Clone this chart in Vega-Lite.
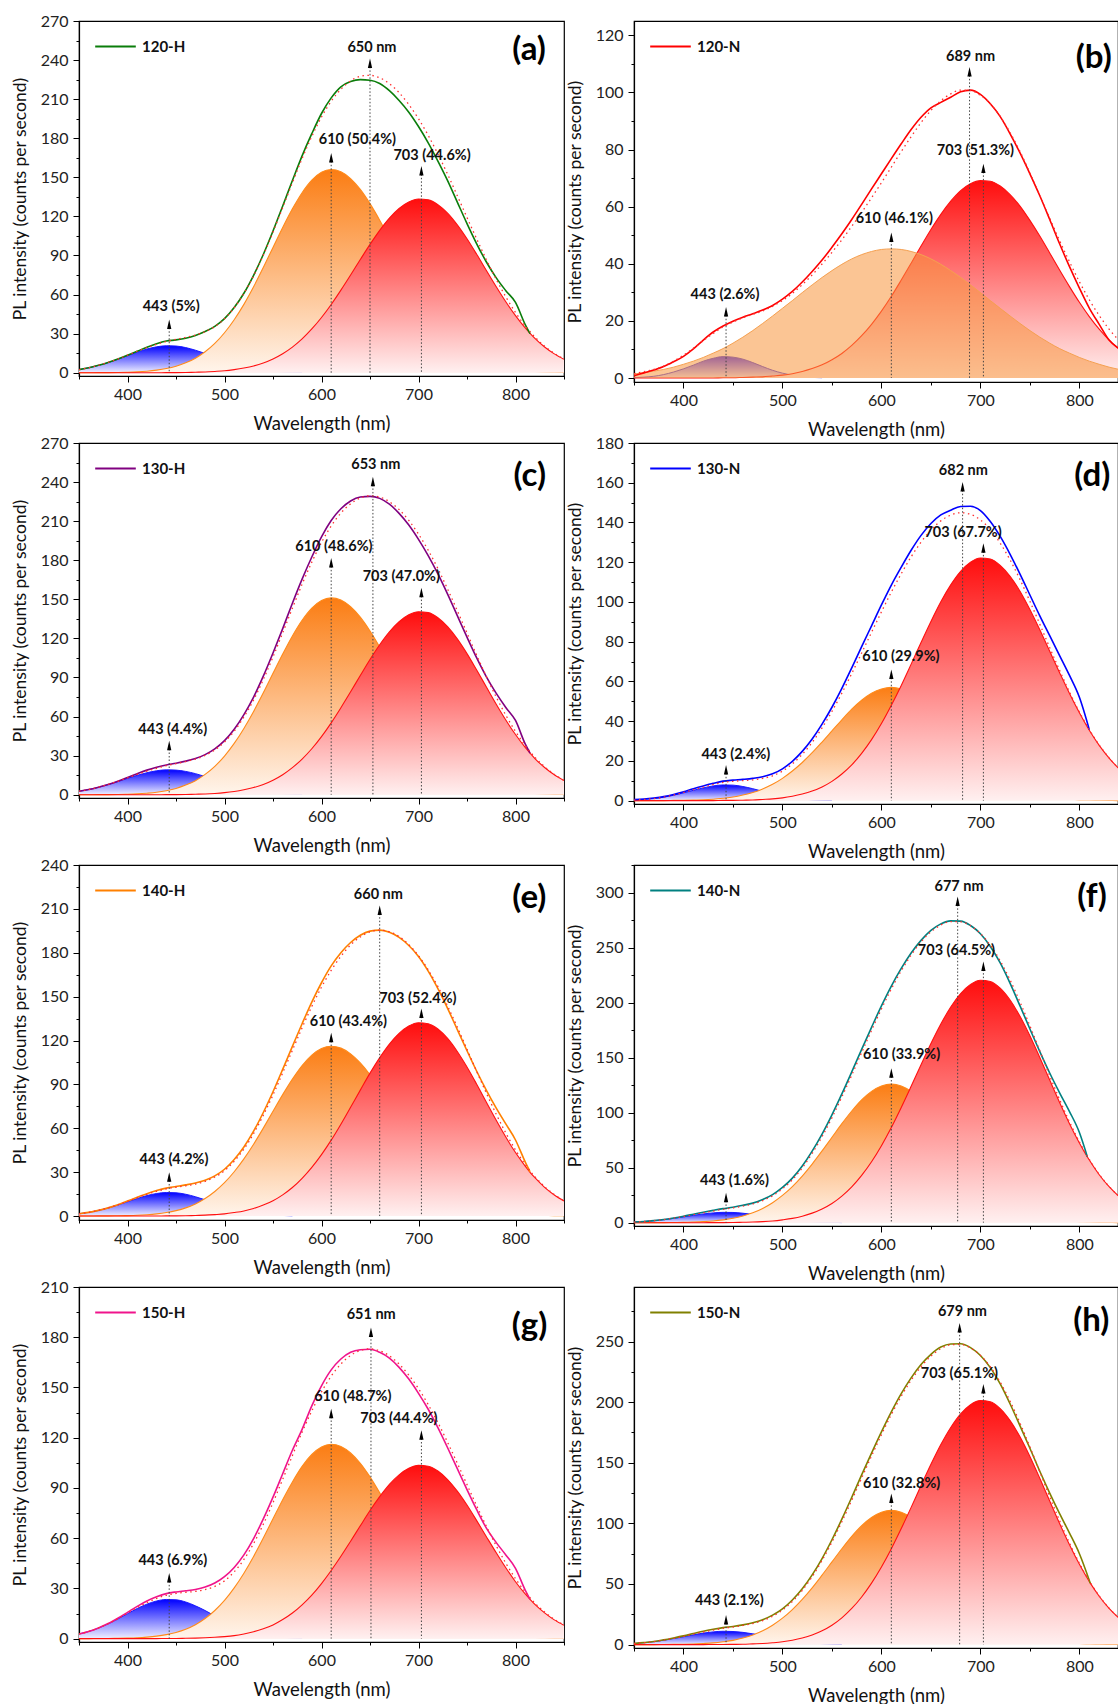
{
"$schema": "https://vega.github.io/schema/vega-lite/v6.json",
"background": "white",
"padding": {"left": 10, "top": 12, "right": 0, "bottom": 0},
"config": {
 "font": "Lato",
 "view": {"stroke": "#000", "strokeWidth": 1.2},
 "mark": {"invalid": "filter"},
 "area": {"opacity": 1},
 "axis": {"domainColor": "#000", "domainWidth": 1.2, "tickColor": "#000", "tickWidth": 1, "labelFont": "Lato", "labelFontSize": 16, "labelColor": "#222", "labelOverlap": false, "titleFont": "Lato", "titleFontSize": 17.5, "titleFontWeight": "normal", "titleColor": "#111", "grid": false},
 "axisX": {"labelPadding": 4, "titlePadding": 12, "titleFontSize": 18.5},
 "axisY": {"labelPadding": 5, "titlePadding": 11},
 "legend": {"orient": "none", "legendX": 15, "legendY": 4, "padding": 0, "symbolType": "stroke", "symbolSize": 1650, "symbolStrokeWidth": 1.8, "labelFont": "Lato", "labelFontSize": 15, "labelFontWeight": "bold", "labelColor": "#111", "labelOffset": 5}
},
"datasets": {
"c": [
{"p":"a","x":350,"b":2.4,"o":0,"r":0,"s":2.4,"e":2.4},
{"p":"a","x":360,"b":3.8,"o":0,"r":0,"s":3.8,"e":3.8},
{"p":"a","x":370,"b":5.6,"o":0.1,"r":0,"s":5.7,"e":5.7},
{"p":"a","x":380,"b":7.8,"o":0.1,"r":0,"s":7.9,"e":7.9},
{"p":"a","x":390,"b":10.3,"o":0.2,"r":0,"s":10.5,"e":10.5},
{"p":"a","x":400,"b":13.1,"o":0.4,"r":0,"s":13.5,"e":13.5},
{"p":"a","x":410,"b":15.8,"o":0.7,"r":0,"s":16.5,"e":16.5},
{"p":"a","x":420,"b":18.2,"o":1.2,"r":0,"s":19.4,"e":19.6},
{"p":"a","x":430,"b":19.9,"o":2.0,"r":0,"s":21.9,"e":22.3},
{"p":"a","x":440,"b":20.7,"o":3.2,"r":0.1,"s":24.0,"e":24.3},
{"p":"a","x":450,"b":20.5,"o":5.0,"r":0.1,"s":25.6,"e":25.2},
{"p":"a","x":460,"b":19.3,"o":7.6,"r":0.2,"s":27.1,"e":26.5},
{"p":"a","x":470,"b":17.3,"o":11.2,"r":0.4,"s":28.9,"e":28.6},
{"p":"a","x":480,"b":14.8,"o":16.1,"r":0.6,"s":31.5,"e":31.6},
{"p":"a","x":490,"b":12.0,"o":22.5,"r":1.0,"s":35.5,"e":35.6},
{"p":"a","x":500,"b":9.3,"o":30.7,"r":1.5,"s":41.5,"e":41.5},
{"p":"a","x":510,"b":6.8,"o":40.7,"r":2.4,"s":49.9,"e":50},
{"p":"a","x":520,"b":4.8,"o":52.5,"r":3.6,"s":60.9,"e":61},
{"p":"a","x":530,"b":3.2,"o":66.0,"r":5.2,"s":74.4,"e":74.8},
{"p":"a","x":540,"b":2.0,"o":80.8,"r":7.5,"s":90.3,"e":90.8},
{"p":"a","x":550,"b":1.2,"o":96.2,"r":10.6,"s":108.0,"e":108.8},
{"p":"a","x":560,"b":0.7,"o":111.5,"r":14.6,"s":126.8,"e":128},
{"p":"a","x":570,"b":0.4,"o":125.8,"r":19.7,"s":145.9,"e":147.5},
{"p":"a","x":580,"b":0.2,"o":138.2,"r":26.0,"s":164.4,"e":166.5},
{"p":"a","x":590,"o":147.8,"r":33.6,"s":181.4,"e":183.5},
{"p":"a","x":600,"o":153.9,"r":42.4,"s":196.3,"e":199},
{"p":"a","x":610,"o":156,"r":52.4,"s":208.4,"e":211},
{"p":"a","x":620,"o":154.2,"r":63.4,"s":217.6,"e":219.5},
{"p":"a","x":630,"o":149.0,"r":75.0,"s":224.0,"e":223.5},
{"p":"a","x":640,"o":140.7,"r":86.9,"s":227.6,"e":225},
{"p":"a","x":650,"o":129.8,"r":98.5,"s":228.3,"e":224.5},
{"p":"a","x":660,"o":117.1,"r":109.3,"s":226.4,"e":222},
{"p":"a","x":670,"o":103.2,"r":118.7,"s":221.9,"e":216.5},
{"p":"a","x":680,"o":88.9,"r":126.1,"s":215.0,"e":209},
{"p":"a","x":690,"o":74.8,"r":131.1,"s":205.9,"e":200},
{"p":"a","x":700,"o":61.6,"r":133.4,"s":195.0,"e":189},
{"p":"a","x":710,"o":49.5,"r":132.7,"s":182.2,"e":176.5},
{"p":"a","x":720,"o":38.9,"r":129.0,"s":167.9,"e":162.5},
{"p":"a","x":730,"o":29.9,"r":122.5,"s":152.4,"e":147.5},
{"p":"a","x":740,"o":22.4,"r":113.5,"s":135.9,"e":131},
{"p":"a","x":750,"o":16.4,"r":102.8,"s":119.2,"e":114.5},
{"p":"a","x":760,"o":11.8,"r":90.9,"s":102.7,"e":99},
{"p":"a","x":770,"o":8.3,"r":78.5,"s":86.8,"e":85},
{"p":"a","x":780,"o":5.7,"r":66.2,"s":71.9,"e":73},
{"p":"a","x":790,"o":3.8,"r":54.5,"s":58.3,"e":63},
{"p":"a","x":800,"o":2.5,"r":43.8,"s":46.3,"e":54},
{"p":"a","x":810,"o":1.6,"r":34.4,"s":36.0,"e":37},
{"p":"a","x":815,"o":1.3,"r":30.3,"s":31.6,"e":30},
{"p":"a","x":820,"o":1.0,"r":26.4,"s":27.4},
{"p":"a","x":830,"o":0.6,"r":19.8,"s":20.4},
{"p":"a","x":840,"o":0.4,"r":14.5,"s":14.9},
{"p":"a","x":850,"o":0.2,"r":10.3,"s":10.5},

{"p":"b","x":350,"b":0.1,"o":1.4,"r":0,"s":1.5,"e":0.8},
{"p":"b","x":360,"b":0.3,"o":1.9,"r":0,"s":2.2,"e":1.8},
{"p":"b","x":370,"b":0.6,"o":2.4,"r":0,"s":3.0,"e":2.8},
{"p":"b","x":380,"b":1.2,"o":3.0,"r":0,"s":4.2,"e":4.0},
{"p":"b","x":390,"b":2.1,"o":3.8,"r":0,"s":5.9,"e":5.7},
{"p":"b","x":400,"b":3.2,"o":4.8,"r":0,"s":8.0,"e":7.6},
{"p":"b","x":410,"b":4.5,"o":5.9,"r":0,"s":10.4,"e":10.2},
{"p":"b","x":420,"b":5.9,"o":7.2,"r":0,"s":13.1,"e":13.3},
{"p":"b","x":430,"b":6.9,"o":8.7,"r":0,"s":15.6,"e":16.1},
{"p":"b","x":440,"b":7.5,"o":10.3,"r":0.1,"s":17.9,"e":18.2},
{"p":"b","x":450,"b":7.3,"o":12.2,"r":0.1,"s":19.6,"e":19.9},
{"p":"b","x":460,"b":6.6,"o":14.3,"r":0.2,"s":21.1,"e":21.3},
{"p":"b","x":470,"b":5.4,"o":16.6,"r":0.3,"s":22.3,"e":22.5},
{"p":"b","x":480,"b":4.0,"o":19.1,"r":0.4,"s":23.5,"e":23.8},
{"p":"b","x":490,"b":2.7,"o":21.7,"r":0.7,"s":25.1,"e":25.4},
{"p":"b","x":500,"b":1.7,"o":24.4,"r":1.0,"s":27.1,"e":27.6},
{"p":"b","x":510,"b":1.0,"o":27.1,"r":1.5,"s":29.6,"e":30.3},
{"p":"b","x":520,"b":0.5,"o":29.9,"r":2.3,"s":32.7,"e":33.6},
{"p":"b","x":530,"b":0.2,"o":32.6,"r":3.3,"s":36.1,"e":37.3},
{"p":"b","x":540,"b":0.1,"o":35.2,"r":4.6,"s":39.9,"e":41.3},
{"p":"b","x":550,"o":37.6,"r":6.4,"s":44.0,"e":45.8},
{"p":"b","x":560,"o":39.8,"r":8.6,"s":48.4,"e":50.5},
{"p":"b","x":570,"o":41.7,"r":11.4,"s":53.1,"e":55.5},
{"p":"b","x":580,"o":43.2,"r":14.8,"s":58.0,"e":60.8},
{"p":"b","x":590,"o":44.3,"r":18.8,"s":63.1,"e":66.2},
{"p":"b","x":600,"o":45.0,"r":23.4,"s":68.4,"e":71.5},
{"p":"b","x":610,"o":45.2,"r":28.6,"s":73.8,"e":76.8},
{"p":"b","x":620,"o":45.0,"r":34.3,"s":79.3,"e":82},
{"p":"b","x":630,"o":44.3,"r":40.2,"s":84.5,"e":87},
{"p":"b","x":640,"o":43.2,"r":46.2,"s":89.4,"e":91.3},
{"p":"b","x":650,"o":41.7,"r":52.0,"s":93.7,"e":94.6},
{"p":"b","x":660,"o":39.8,"r":57.3,"s":97.1,"e":96.5},
{"p":"b","x":670,"o":37.6,"r":61.9,"s":99.5,"e":98.3},
{"p":"b","x":680,"o":35.2,"r":65.6,"s":100.8,"e":100.2},
{"p":"b","x":690,"o":32.6,"r":68.0,"s":100.6,"e":100.8},
{"p":"b","x":700,"o":29.9,"r":69.1,"s":99.0,"e":99.3},
{"p":"b","x":710,"o":27.1,"r":68.9,"s":96.0,"e":96},
{"p":"b","x":720,"o":24.4,"r":67.2,"s":91.6,"e":91.5},
{"p":"b","x":730,"o":21.7,"r":64.2,"s":85.9,"e":85.5},
{"p":"b","x":740,"o":19.1,"r":60.2,"s":79.3,"e":78.8},
{"p":"b","x":750,"o":16.6,"r":55.2,"s":71.8,"e":71.5},
{"p":"b","x":760,"o":14.3,"r":49.7,"s":64.0,"e":63.8},
{"p":"b","x":770,"o":12.2,"r":43.8,"s":56.0,"e":55.5},
{"p":"b","x":780,"o":10.3,"r":37.8,"s":48.1,"e":47},
{"p":"b","x":790,"o":8.7,"r":32.0,"s":40.7,"e":39},
{"p":"b","x":800,"o":7.2,"r":26.5,"s":33.7,"e":31.5},
{"p":"b","x":810,"o":5.9,"r":21.5,"s":27.4,"e":24.5},
{"p":"b","x":820,"o":4.8,"r":17.1,"s":21.9,"e":18.8},
{"p":"b","x":830,"o":3.8,"r":13.3,"s":17.1,"e":13.3},
{"p":"b","x":840,"o":3.0,"r":10.2,"s":13.2,"e":10.2},
{"p":"b","x":850,"o":2.4,"r":7.6,"s":10.0,"e":7.6},

{"p":"c","x":350,"b":2.7,"o":0,"r":0,"s":2.7,"e":2.7},
{"p":"c","x":360,"b":4.0,"o":0,"r":0,"s":4.0,"e":4.0},
{"p":"c","x":370,"b":5.7,"o":0.1,"r":0,"s":5.8,"e":5.8},
{"p":"c","x":380,"b":7.8,"o":0.1,"r":0,"s":7.9,"e":7.9},
{"p":"c","x":390,"b":10.1,"o":0.2,"r":0,"s":10.3,"e":10.4},
{"p":"c","x":400,"b":12.6,"o":0.4,"r":0,"s":13.0,"e":13.3},
{"p":"c","x":410,"b":14.9,"o":0.7,"r":0,"s":15.6,"e":16.2},
{"p":"c","x":420,"b":16.9,"o":1.2,"r":0,"s":18.1,"e":18.9},
{"p":"c","x":430,"b":18.4,"o":1.9,"r":0,"s":20.3,"e":21.1},
{"p":"c","x":440,"b":19.1,"o":3.1,"r":0.1,"s":22.3,"e":22.9},
{"p":"c","x":450,"b":18.9,"o":4.8,"r":0.1,"s":23.8,"e":24.2},
{"p":"c","x":460,"b":17.9,"o":7.4,"r":0.2,"s":25.5,"e":25.8},
{"p":"c","x":470,"b":16.2,"o":10.8,"r":0.4,"s":27.4,"e":27.8},
{"p":"c","x":480,"b":14.0,"o":15.6,"r":0.6,"s":30.2,"e":30.8},
{"p":"c","x":490,"b":11.6,"o":21.8,"r":1.0,"s":34.4,"e":35.2},
{"p":"c","x":500,"b":9.2,"o":29.7,"r":1.6,"s":40.5,"e":41.5},
{"p":"c","x":510,"b":6.9,"o":39.4,"r":2.5,"s":48.8,"e":50.2},
{"p":"c","x":520,"b":5.0,"o":50.9,"r":3.8,"s":59.7,"e":61.5},
{"p":"c","x":530,"b":3.4,"o":63.9,"r":5.5,"s":72.8,"e":75},
{"p":"c","x":540,"b":2.3,"o":78.2,"r":7.9,"s":88.4,"e":91},
{"p":"c","x":550,"b":1.4,"o":93.2,"r":11.2,"s":105.8,"e":108.8},
{"p":"c","x":560,"b":0.9,"o":108.0,"r":15.4,"s":124.3,"e":127.5},
{"p":"c","x":570,"b":0.5,"o":121.9,"r":20.8,"s":143.2,"e":147},
{"p":"c","x":580,"b":0.3,"o":133.9,"r":27.4,"s":161.6,"e":165.5},
{"p":"c","x":590,"o":143.2,"r":35.3,"s":178.5,"e":182.5},
{"p":"c","x":600,"o":149.1,"r":44.6,"s":193.7,"e":198},
{"p":"c","x":610,"o":151.1,"r":55.2,"s":206.3,"e":210.5},
{"p":"c","x":620,"o":149.4,"r":66.8,"s":216.2,"e":219.5},
{"p":"c","x":630,"o":144.3,"r":79.0,"s":223.3,"e":225.5},
{"p":"c","x":640,"o":136.3,"r":91.5,"s":227.8,"e":228.5},
{"p":"c","x":650,"o":125.7,"r":103.8,"s":229.5,"e":229},
{"p":"c","x":660,"o":113.4,"r":115.1,"s":228.5,"e":227.5},
{"p":"c","x":670,"o":99.9,"r":125.0,"s":224.9,"e":223},
{"p":"c","x":680,"o":86.1,"r":132.8,"s":218.9,"e":216},
{"p":"c","x":690,"o":72.5,"r":138.1,"s":210.6,"e":207},
{"p":"c","x":700,"o":59.6,"r":140.5,"s":200.1,"e":196},
{"p":"c","x":710,"o":47.9,"r":139.8,"s":187.7,"e":183.5},
{"p":"c","x":720,"o":37.7,"r":135.9,"s":173.6,"e":169.5},
{"p":"c","x":730,"o":28.9,"r":129.0,"s":157.9,"e":154},
{"p":"c","x":740,"o":21.7,"r":119.6,"s":141.3,"e":137.5},
{"p":"c","x":750,"o":15.9,"r":108.3,"s":124.2,"e":121},
{"p":"c","x":760,"o":11.4,"r":95.7,"s":107.1,"e":105},
{"p":"c","x":770,"o":8.0,"r":82.7,"s":90.7,"e":90.5},
{"p":"c","x":780,"o":5.5,"r":69.7,"s":75.2,"e":78},
{"p":"c","x":790,"o":3.7,"r":57.4,"s":61.1,"e":67},
{"p":"c","x":800,"o":2.4,"r":46.2,"s":48.6,"e":57},
{"p":"c","x":810,"o":1.5,"r":36.3,"s":37.8,"e":39},
{"p":"c","x":815,"o":1.2,"r":31.9,"s":33.1,"e":32},
{"p":"c","x":820,"o":1.0,"r":27.8,"s":28.8},
{"p":"c","x":830,"o":0.6,"r":20.9,"s":21.5},
{"p":"c","x":840,"o":0.3,"r":15.3,"s":15.6},
{"p":"c","x":850,"o":0.2,"r":10.9,"s":11.1},

{"p":"d","x":350,"b":0.3,"o":0,"r":0,"s":0.3,"e":0.5},
{"p":"d","x":360,"b":0.6,"o":0,"r":0,"s":0.6,"e":0.8},
{"p":"d","x":370,"b":1.0,"o":0,"r":0,"s":1.0,"e":1.3},
{"p":"d","x":380,"b":1.7,"o":0,"r":0,"s":1.7,"e":2.0},
{"p":"d","x":390,"b":2.7,"o":0.1,"r":0,"s":2.8,"e":3.1},
{"p":"d","x":400,"b":3.9,"o":0.2,"r":0,"s":4.1,"e":4.5},
{"p":"d","x":410,"b":5.2,"o":0.3,"r":0,"s":5.5,"e":6.0},
{"p":"d","x":420,"b":6.4,"o":0.4,"r":0,"s":6.8,"e":7.4},
{"p":"d","x":430,"b":7.4,"o":0.7,"r":0,"s":8.1,"e":8.7},
{"p":"d","x":440,"b":7.9,"o":1.2,"r":0.1,"s":9.2,"e":9.8},
{"p":"d","x":450,"b":7.8,"o":1.8,"r":0.1,"s":9.7,"e":10.3},
{"p":"d","x":460,"b":7.1,"o":2.8,"r":0.2,"s":10.1,"e":10.7},
{"p":"d","x":470,"b":6.0,"o":4.1,"r":0.3,"s":10.4,"e":11.2},
{"p":"d","x":480,"b":4.7,"o":5.9,"r":0.6,"s":11.2,"e":12.0},
{"p":"d","x":490,"b":3.4,"o":8.2,"r":0.9,"s":12.5,"e":13.5},
{"p":"d","x":500,"b":2.3,"o":11.2,"r":1.4,"s":14.9,"e":16.0},
{"p":"d","x":510,"b":1.4,"o":14.9,"r":2.2,"s":18.5,"e":19.8},
{"p":"d","x":520,"b":0.8,"o":19.2,"r":3.3,"s":23.3,"e":24.8},
{"p":"d","x":530,"b":0.4,"o":24.1,"r":4.8,"s":29.3,"e":31},
{"p":"d","x":540,"b":0.2,"o":29.5,"r":6.9,"s":36.6,"e":38.5},
{"p":"d","x":550,"b":0.1,"o":35.1,"r":9.7,"s":44.9,"e":47},
{"p":"d","x":560,"o":40.7,"r":13.4,"s":54.1,"e":56.5},
{"p":"d","x":570,"o":46.0,"r":18.0,"s":64.0,"e":66.8},
{"p":"d","x":580,"o":50.5,"r":23.8,"s":74.3,"e":77.5},
{"p":"d","x":590,"o":54.0,"r":30.7,"s":84.7,"e":88},
{"p":"d","x":600,"o":56.2,"r":38.8,"s":95.0,"e":98.5},
{"p":"d","x":610,"o":57.0,"r":48.0,"s":105.0,"e":108.5},
{"p":"d","x":620,"o":56.2,"r":58.0,"s":114.2,"e":117.5},
{"p":"d","x":630,"o":54.0,"r":68.7,"s":122.7,"e":126},
{"p":"d","x":640,"o":50.5,"r":79.6,"s":130.1,"e":133.5},
{"p":"d","x":650,"o":46.0,"r":90.2,"s":136.2,"e":139.5},
{"p":"d","x":660,"o":40.7,"r":100.1,"s":140.8,"e":143.8},
{"p":"d","x":670,"o":35.1,"r":108.6,"s":143.7,"e":146.2},
{"p":"d","x":680,"o":29.5,"r":115.4,"s":144.9,"e":148},
{"p":"d","x":690,"o":24.1,"r":120.0,"s":144.1,"e":148.2},
{"p":"d","x":700,"o":19.2,"r":122.1,"s":141.3,"e":146},
{"p":"d","x":710,"o":14.9,"r":121.6,"s":136.5,"e":140.5},
{"p":"d","x":720,"o":11.2,"r":118.4,"s":129.6,"e":133},
{"p":"d","x":730,"o":8.2,"r":112.9,"s":121.1,"e":124},
{"p":"d","x":740,"o":5.9,"r":105.4,"s":111.3,"e":114},
{"p":"d","x":750,"o":4.1,"r":96.2,"s":100.3,"e":103.5},
{"p":"d","x":760,"o":2.8,"r":86.0,"s":88.8,"e":93},
{"p":"d","x":770,"o":1.8,"r":75.2,"s":77.0,"e":83},
{"p":"d","x":780,"o":1.2,"r":64.4,"s":65.6,"e":73},
{"p":"d","x":790,"o":0.7,"r":53.9,"s":54.6,"e":63},
{"p":"d","x":800,"o":0.4,"r":44.2,"s":44.6,"e":52},
{"p":"d","x":810,"o":0.3,"r":35.4,"s":35.7,"e":35.7},
{"p":"d","x":820,"o":0.2,"r":27.8,"s":28.0},
{"p":"d","x":830,"o":0.1,"r":21.4,"s":21.5},
{"p":"d","x":840,"o":0,"r":16.1,"s":16.1},
{"p":"d","x":850,"o":0,"r":11.8,"s":11.8},

{"p":"e","x":350,"b":1.6,"o":0,"r":0,"s":1.6,"e":1.6},
{"p":"e","x":360,"b":2.5,"o":0,"r":0,"s":2.5,"e":2.5},
{"p":"e","x":370,"b":3.8,"o":0.1,"r":0,"s":3.9,"e":3.9},
{"p":"e","x":380,"b":5.5,"o":0.1,"r":0,"s":5.6,"e":5.6},
{"p":"e","x":390,"b":7.5,"o":0.2,"r":0,"s":7.7,"e":7.8},
{"p":"e","x":400,"b":9.8,"o":0.3,"r":0,"s":10.1,"e":10.3},
{"p":"e","x":410,"b":12.0,"o":0.5,"r":0,"s":12.5,"e":12.8},
{"p":"e","x":420,"b":14.0,"o":0.9,"r":0,"s":14.9,"e":15.3},
{"p":"e","x":430,"b":15.4,"o":1.5,"r":0,"s":16.9,"e":17.4},
{"p":"e","x":440,"b":16.1,"o":2.4,"r":0.1,"s":18.6,"e":19.1},
{"p":"e","x":450,"b":15.9,"o":3.7,"r":0.1,"s":19.7,"e":20.2},
{"p":"e","x":460,"b":14.9,"o":5.6,"r":0.2,"s":20.7,"e":21.3},
{"p":"e","x":470,"b":13.2,"o":8.3,"r":0.4,"s":21.9,"e":22.6},
{"p":"e","x":480,"b":11.1,"o":12.0,"r":0.6,"s":23.7,"e":24.5},
{"p":"e","x":490,"b":8.9,"o":16.8,"r":1.0,"s":26.7,"e":27.5},
{"p":"e","x":500,"b":6.7,"o":22.8,"r":1.5,"s":31.0,"e":32},
{"p":"e","x":510,"b":4.8,"o":30.3,"r":2.4,"s":37.5,"e":38.7},
{"p":"e","x":520,"b":3.2,"o":39.1,"r":3.5,"s":45.8,"e":47.2},
{"p":"e","x":530,"b":2.1,"o":49.1,"r":5.2,"s":56.4,"e":58},
{"p":"e","x":540,"b":1.3,"o":60.1,"r":7.5,"s":68.9,"e":70.8},
{"p":"e","x":550,"b":0.7,"o":71.6,"r":10.5,"s":82.8,"e":85},
{"p":"e","x":560,"b":0.4,"o":83.0,"r":14.5,"s":97.9,"e":100.3},
{"p":"e","x":570,"b":0.2,"o":93.6,"r":19.5,"s":113.3,"e":116},
{"p":"e","x":580,"o":102.9,"r":25.8,"s":128.7,"e":131.5},
{"p":"e","x":590,"o":110.0,"r":33.3,"s":143.3,"e":146.3},
{"p":"e","x":600,"o":114.5,"r":42.0,"s":156.5,"e":159.5},
{"p":"e","x":610,"o":116.1,"r":51.9,"s":168.0,"e":171},
{"p":"e","x":620,"o":114.8,"r":62.8,"s":177.6,"e":180},
{"p":"e","x":630,"o":110.9,"r":74.4,"s":185.3,"e":187},
{"p":"e","x":640,"o":104.7,"r":86.1,"s":190.8,"e":192},
{"p":"e","x":650,"o":96.6,"r":97.7,"s":194.3,"e":194.8},
{"p":"e","x":660,"o":87.1,"r":108.3,"s":195.4,"e":195.5},
{"p":"e","x":670,"o":76.8,"r":117.6,"s":194.4,"e":194},
{"p":"e","x":680,"o":66.2,"r":124.9,"s":191.1,"e":190.5},
{"p":"e","x":690,"o":55.7,"r":129.9,"s":185.6,"e":185},
{"p":"e","x":700,"o":45.8,"r":132.2,"s":178.0,"e":177.5},
{"p":"e","x":710,"o":36.8,"r":131.5,"s":168.3,"e":167.5},
{"p":"e","x":720,"o":29.0,"r":127.9,"s":156.9,"e":155.5},
{"p":"e","x":730,"o":22.2,"r":121.4,"s":143.6,"e":142},
{"p":"e","x":740,"o":16.7,"r":112.5,"s":129.2,"e":127.5},
{"p":"e","x":750,"o":12.2,"r":101.9,"s":114.1,"e":113},
{"p":"e","x":760,"o":8.8,"r":90.1,"s":98.9,"e":99},
{"p":"e","x":770,"o":6.2,"r":77.8,"s":84.0,"e":86},
{"p":"e","x":780,"o":4.2,"r":65.6,"s":69.8,"e":74},
{"p":"e","x":790,"o":2.8,"r":54.0,"s":56.8,"e":63},
{"p":"e","x":800,"o":1.8,"r":43.4,"s":45.2,"e":52},
{"p":"e","x":810,"o":1.2,"r":34.1,"s":35.3,"e":37},
{"p":"e","x":815,"o":0.9,"r":29.9,"s":30.8,"e":30.2},
{"p":"e","x":820,"o":0.7,"r":26.2,"s":26.9},
{"p":"e","x":830,"o":0.5,"r":19.6,"s":20.1},
{"p":"e","x":840,"o":0.3,"r":14.4,"s":14.7},
{"p":"e","x":850,"o":0.2,"r":10.3,"s":10.5},

{"p":"f","x":350,"b":0.6,"o":0,"r":0,"s":0.6,"e":0.6},
{"p":"f","x":360,"b":1.1,"o":0,"r":0,"s":1.1,"e":1.1},
{"p":"f","x":370,"b":1.8,"o":0.1,"r":0,"s":1.9,"e":1.9},
{"p":"f","x":380,"b":2.7,"o":0.1,"r":0,"s":2.8,"e":2.9},
{"p":"f","x":390,"b":3.9,"o":0.2,"r":0,"s":4.1,"e":4.3},
{"p":"f","x":400,"b":5.3,"o":0.3,"r":0,"s":5.6,"e":5.9},
{"p":"f","x":410,"b":6.7,"o":0.6,"r":0,"s":7.3,"e":7.7},
{"p":"f","x":420,"b":8.0,"o":1.0,"r":0,"s":9.0,"e":9.5},
{"p":"f","x":430,"b":8.9,"o":1.6,"r":0.1,"s":10.6,"e":11.2},
{"p":"f","x":440,"b":9.4,"o":2.6,"r":0.1,"s":12.1,"e":12.8},
{"p":"f","x":450,"b":9.3,"o":4.0,"r":0.2,"s":13.5,"e":14.1},
{"p":"f","x":460,"b":8.6,"o":6.1,"r":0.4,"s":15.1,"e":15.8},
{"p":"f","x":470,"b":7.5,"o":9.0,"r":0.6,"s":17.1,"e":17.8},
{"p":"f","x":480,"b":6.1,"o":13.0,"r":1.0,"s":20.1,"e":21},
{"p":"f","x":490,"b":4.7,"o":18.2,"r":1.6,"s":24.5,"e":25.5},
{"p":"f","x":500,"b":3.4,"o":24.8,"r":2.6,"s":30.8,"e":32},
{"p":"f","x":510,"b":2.3,"o":32.8,"r":3.9,"s":39.0,"e":40.5},
{"p":"f","x":520,"b":1.5,"o":42.4,"r":5.9,"s":49.8,"e":51.5},
{"p":"f","x":530,"b":0.9,"o":53.3,"r":8.7,"s":62.9,"e":65},
{"p":"f","x":540,"b":0.5,"o":65.2,"r":12.5,"s":78.2,"e":80.5},
{"p":"f","x":550,"b":0.3,"o":77.6,"r":17.5,"s":95.4,"e":98},
{"p":"f","x":560,"b":0.1,"o":90.0,"r":24.2,"s":114.3,"e":117},
{"p":"f","x":570,"o":101.5,"r":32.6,"s":134.1,"e":137},
{"p":"f","x":580,"o":111.6,"r":43.0,"s":154.6,"e":157.5},
{"p":"f","x":590,"o":119.3,"r":55.4,"s":174.7,"e":177.5},
{"p":"f","x":600,"o":124.2,"r":70.0,"s":194.2,"e":197},
{"p":"f","x":610,"o":125.9,"r":86.5,"s":212.4,"e":215},
{"p":"f","x":620,"o":124.2,"r":104.7,"s":228.9,"e":231},
{"p":"f","x":630,"o":119.3,"r":123.9,"s":243.2,"e":245},
{"p":"f","x":640,"o":111.6,"r":143.5,"s":255.1,"e":256.5},
{"p":"f","x":650,"o":101.5,"r":162.8,"s":264.3,"e":265.5},
{"p":"f","x":660,"o":90.0,"r":180.5,"s":270.5,"e":271.5},
{"p":"f","x":670,"o":77.6,"r":196.0,"s":273.6,"e":274.2},
{"p":"f","x":680,"o":65.2,"r":208.2,"s":273.4,"e":274},
{"p":"f","x":690,"o":53.3,"r":216.5,"s":269.8,"e":270},
{"p":"f","x":700,"o":42.4,"r":220.3,"s":262.7,"e":262.5},
{"p":"f","x":710,"o":32.8,"r":219.2,"s":252.0,"e":251},
{"p":"f","x":720,"o":24.8,"r":213.1,"s":237.9,"e":236},
{"p":"f","x":730,"o":18.2,"r":202.3,"s":220.5,"e":217.5},
{"p":"f","x":740,"o":13.0,"r":187.5,"s":200.5,"e":197},
{"p":"f","x":750,"o":9.0,"r":169.8,"s":178.8,"e":176},
{"p":"f","x":760,"o":6.1,"r":150.1,"s":156.2,"e":155.5},
{"p":"f","x":770,"o":4.0,"r":129.6,"s":133.6,"e":136},
{"p":"f","x":780,"o":2.6,"r":109.3,"s":111.9,"e":118},
{"p":"f","x":790,"o":1.6,"r":90.0,"s":91.6,"e":101},
{"p":"f","x":800,"o":1.0,"r":72.4,"s":73.4,"e":82},
{"p":"f","x":808,"o":0.7,"r":59.8,"s":60.5,"e":60},
{"p":"f","x":810,"o":0.6,"r":56.9,"s":57.5},
{"p":"f","x":820,"o":0.3,"r":43.6,"s":43.9},
{"p":"f","x":830,"o":0.2,"r":32.7,"s":32.9},
{"p":"f","x":840,"o":0.1,"r":23.9,"s":24.0},
{"p":"f","x":850,"o":0.1,"r":17.1,"s":17.2},

{"p":"g","x":350,"b":2.8,"o":0,"r":0,"s":2.8,"e":2.8},
{"p":"g","x":360,"b":4.3,"o":0,"r":0,"s":4.3,"e":4.3},
{"p":"g","x":370,"b":6.3,"o":0.1,"r":0,"s":6.4,"e":6.4},
{"p":"g","x":380,"b":8.8,"o":0.1,"r":0,"s":8.9,"e":9},
{"p":"g","x":390,"b":11.7,"o":0.2,"r":0,"s":11.9,"e":12.2},
{"p":"g","x":400,"b":14.9,"o":0.3,"r":0,"s":15.2,"e":15.7},
{"p":"g","x":410,"b":18.0,"o":0.5,"r":0,"s":18.5,"e":19.3},
{"p":"g","x":420,"b":20.6,"o":0.9,"r":0,"s":21.5,"e":22.5},
{"p":"g","x":430,"b":22.5,"o":1.5,"r":0,"s":24.0,"e":25},
{"p":"g","x":440,"b":23.4,"o":2.4,"r":0.1,"s":25.9,"e":26.9},
{"p":"g","x":450,"b":23.2,"o":3.7,"r":0.1,"s":27.0,"e":27.9},
{"p":"g","x":460,"b":21.9,"o":5.6,"r":0.2,"s":27.7,"e":28.6},
{"p":"g","x":470,"b":19.6,"o":8.3,"r":0.3,"s":28.2,"e":29.4},
{"p":"g","x":480,"b":16.8,"o":12.0,"r":0.5,"s":29.3,"e":30.8},
{"p":"g","x":490,"b":13.6,"o":16.8,"r":0.8,"s":31.2,"e":33.2},
{"p":"g","x":500,"b":10.5,"o":22.8,"r":1.2,"s":34.5,"e":37},
{"p":"g","x":510,"b":7.8,"o":30.3,"r":1.8,"s":39.9,"e":42.5},
{"p":"g","x":520,"b":5.4,"o":39.1,"r":2.8,"s":47.3,"e":50},
{"p":"g","x":530,"b":3.6,"o":49.1,"r":4.1,"s":56.8,"e":59.8},
{"p":"g","x":540,"b":2.3,"o":60.1,"r":5.9,"s":68.3,"e":71.5},
{"p":"g","x":550,"b":1.4,"o":71.6,"r":8.2,"s":81.2,"e":84.5},
{"p":"g","x":560,"b":0.8,"o":83.0,"r":11.4,"s":95.2,"e":98.5},
{"p":"g","x":570,"b":0.4,"o":93.6,"r":15.3,"s":109.3,"e":112.5},
{"p":"g","x":580,"b":0.2,"o":102.9,"r":20.2,"s":123.3,"e":125},
{"p":"g","x":590,"o":110.0,"r":26.0,"s":136.0,"e":139},
{"p":"g","x":600,"o":114.5,"r":32.9,"s":147.4,"e":151},
{"p":"g","x":610,"o":116.1,"r":40.7,"s":156.8,"e":160.5},
{"p":"g","x":620,"o":114.8,"r":49.2,"s":164.0,"e":167},
{"p":"g","x":630,"o":110.9,"r":58.2,"s":169.1,"e":171},
{"p":"g","x":640,"o":104.7,"r":67.4,"s":172.1,"e":172.5},
{"p":"g","x":650,"o":96.6,"r":76.5,"s":173.1,"e":172.8},
{"p":"g","x":660,"o":87.1,"r":84.8,"s":171.9,"e":171},
{"p":"g","x":670,"o":76.8,"r":92.1,"s":168.9,"e":167.5},
{"p":"g","x":680,"o":66.2,"r":97.8,"s":164.0,"e":162},
{"p":"g","x":690,"o":55.7,"r":101.7,"s":157.4,"e":155},
{"p":"g","x":700,"o":45.8,"r":103.5,"s":149.3,"e":146.5},
{"p":"g","x":710,"o":36.8,"r":103.0,"s":139.8,"e":137},
{"p":"g","x":720,"o":29.0,"r":100.1,"s":129.1,"e":126},
{"p":"g","x":730,"o":22.2,"r":95.0,"s":117.2,"e":114},
{"p":"g","x":740,"o":16.7,"r":88.1,"s":104.8,"e":101.5},
{"p":"g","x":750,"o":12.2,"r":79.8,"s":92.0,"e":89},
{"p":"g","x":760,"o":8.8,"r":70.5,"s":79.3,"e":77},
{"p":"g","x":770,"o":6.2,"r":60.9,"s":67.1,"e":66},
{"p":"g","x":780,"o":4.2,"r":51.4,"s":55.6,"e":57.5},
{"p":"g","x":790,"o":2.8,"r":42.3,"s":45.1,"e":50},
{"p":"g","x":800,"o":1.8,"r":34.0,"s":35.8,"e":42},
{"p":"g","x":810,"o":1.2,"r":26.7,"s":27.9,"e":29},
{"p":"g","x":815,"o":0.9,"r":23.5,"s":24.4,"e":23.5},
{"p":"g","x":820,"o":0.7,"r":20.5,"s":21.2},
{"p":"g","x":830,"o":0.5,"r":15.4,"s":15.9},
{"p":"g","x":840,"o":0.3,"r":11.2,"s":11.5},
{"p":"g","x":850,"o":0.2,"r":8.0,"s":8.2},

{"p":"h","x":350,"b":0.9,"o":0,"r":0,"s":0.9,"e":0.9},
{"p":"h","x":360,"b":1.6,"o":0,"r":0,"s":1.6,"e":1.6},
{"p":"h","x":370,"b":2.4,"o":0,"r":0,"s":2.4,"e":2.5},
{"p":"h","x":380,"b":3.6,"o":0.1,"r":0,"s":3.7,"e":3.9},
{"p":"h","x":390,"b":5.0,"o":0.2,"r":0,"s":5.2,"e":5.5},
{"p":"h","x":400,"b":6.5,"o":0.3,"r":0,"s":6.8,"e":7.2},
{"p":"h","x":410,"b":8.1,"o":0.5,"r":0,"s":8.6,"e":9.1},
{"p":"h","x":420,"b":9.5,"o":0.9,"r":0,"s":10.4,"e":11},
{"p":"h","x":430,"b":10.5,"o":1.4,"r":0.1,"s":12.0,"e":12.6},
{"p":"h","x":440,"b":11.0,"o":2.3,"r":0.1,"s":13.4,"e":14},
{"p":"h","x":450,"b":10.8,"o":3.5,"r":0.2,"s":14.5,"e":15},
{"p":"h","x":460,"b":10.1,"o":5.4,"r":0.3,"s":15.8,"e":16.3},
{"p":"h","x":470,"b":8.9,"o":7.9,"r":0.6,"s":17.4,"e":18},
{"p":"h","x":480,"b":7.5,"o":11.4,"r":0.9,"s":19.8,"e":20.5},
{"p":"h","x":490,"b":5.9,"o":16.0,"r":1.5,"s":23.4,"e":24.3},
{"p":"h","x":500,"b":4.4,"o":21.8,"r":2.3,"s":28.5,"e":29.5},
{"p":"h","x":510,"b":3.1,"o":28.9,"r":3.6,"s":35.6,"e":36.8},
{"p":"h","x":520,"b":2.0,"o":37.3,"r":5.4,"s":44.7,"e":46},
{"p":"h","x":530,"b":1.3,"o":46.8,"r":7.9,"s":56.0,"e":57.5},
{"p":"h","x":540,"b":0.8,"o":57.3,"r":11.4,"s":69.5,"e":71},
{"p":"h","x":550,"b":0.4,"o":68.2,"r":16.0,"s":84.6,"e":86.5},
{"p":"h","x":560,"b":0.2,"o":79.1,"r":22.1,"s":101.4,"e":103.5},
{"p":"h","x":570,"o":89.3,"r":29.8,"s":119.1,"e":121.5},
{"p":"h","x":580,"o":98.1,"r":39.3,"s":137.4,"e":140},
{"p":"h","x":590,"o":104.9,"r":50.7,"s":155.6,"e":158},
{"p":"h","x":600,"o":109.2,"r":64.0,"s":173.2,"e":175.5},
{"p":"h","x":610,"o":110.7,"r":79.1,"s":189.8,"e":192},
{"p":"h","x":620,"o":109.2,"r":95.7,"s":204.9,"e":207},
{"p":"h","x":630,"o":104.9,"r":113.2,"s":218.1,"e":220},
{"p":"h","x":640,"o":98.1,"r":131.2,"s":229.3,"e":231},
{"p":"h","x":650,"o":89.3,"r":148.7,"s":238.0,"e":239.5},
{"p":"h","x":660,"o":79.1,"r":165.0,"s":244.1,"e":245.5},
{"p":"h","x":670,"o":68.2,"r":179.1,"s":247.3,"e":248},
{"p":"h","x":680,"o":57.3,"r":190.3,"s":247.6,"e":248.2},
{"p":"h","x":690,"o":46.8,"r":197.9,"s":244.7,"e":245},
{"p":"h","x":700,"o":37.3,"r":201.3,"s":238.6,"e":238.5},
{"p":"h","x":710,"o":28.9,"r":200.3,"s":229.2,"e":228.5},
{"p":"h","x":720,"o":21.8,"r":194.7,"s":216.5,"e":215},
{"p":"h","x":730,"o":16.0,"r":184.8,"s":200.8,"e":198.5},
{"p":"h","x":740,"o":11.4,"r":171.4,"s":182.8,"e":180.5},
{"p":"h","x":750,"o":7.9,"r":155.2,"s":163.1,"e":162},
{"p":"h","x":760,"o":5.4,"r":137.2,"s":142.6,"e":143},
{"p":"h","x":770,"o":3.5,"r":118.5,"s":122.0,"e":125},
{"p":"h","x":780,"o":2.3,"r":99.9,"s":102.2,"e":108},
{"p":"h","x":790,"o":1.4,"r":82.3,"s":83.7,"e":92},
{"p":"h","x":800,"o":0.9,"r":66.2,"s":67.1,"e":75},
{"p":"h","x":810,"o":0.5,"r":52.0,"s":52.5},
{"p":"h","x":811,"o":0.5,"r":50.7,"s":51.2,"e":50.7},
{"p":"h","x":820,"o":0.3,"r":39.9,"s":40.2},
{"p":"h","x":830,"o":0.2,"r":29.9,"s":30.1},
{"p":"h","x":840,"o":0.1,"r":21.9,"s":22.0},
{"p":"h","x":850,"o":0,"r":15.6,"s":15.6}
],
"ann": [
{"p":"a","x":443,"ay":37.2,"lx":445,"ly":50.1,"t":"443 (5%)"},
{"p":"a","x":610,"ay":165,"lx":637,"ly":179,"t":"610 (50.4%)"},
{"p":"a","x":650,"ay":237.5,"lx":652,"ly":249,"t":"650 nm"},
{"p":"a","x":703,"ay":155,"lx":714,"ly":166.2,"t":"703 (44.6%)"},
{"p":"b","x":443,"ay":23.2,"lx":442,"ly":29,"t":"443 (2.6%)"},
{"p":"b","x":610,"ay":49.3,"lx":613,"ly":55.7,"t":"610 (46.1%)"},
{"p":"b","x":689,"ay":107.2,"lx":690,"ly":112.4,"t":"689 nm"},
{"p":"b","x":703,"ay":73.4,"lx":695,"ly":79.5,"t":"703 (51.3%)"},
{"p":"c","x":443,"ay":37.8,"lx":446.7,"ly":49.5,"t":"443 (4.4%)"},
{"p":"c","x":610,"ay":178,"lx":612.8,"ly":189.9,"t":"610 (48.6%)"},
{"p":"c","x":653,"ay":240.5,"lx":656,"ly":252.9,"t":"653 nm"},
{"p":"c","x":703,"ay":155.2,"lx":682.3,"ly":166.9,"t":"703 (47.0%)"},
{"p":"d","x":443,"ay":15.5,"lx":452.9,"ly":23.1,"t":"443 (2.4%)"},
{"p":"d","x":610,"ay":63.6,"lx":619.7,"ly":72.1,"t":"610 (29.9%)"},
{"p":"d","x":682,"ay":158,"lx":682.8,"ly":165.9,"t":"682 nm"},
{"p":"d","x":703,"ay":127.2,"lx":682.5,"ly":134.6,"t":"703 (67.7%)"},
{"p":"e","x":443,"ay":26.7,"lx":448,"ly":38.2,"t":"443 (4.2%)"},
{"p":"e","x":610,"ay":122,"lx":627.7,"ly":132.7,"t":"610 (43.4%)"},
{"p":"e","x":660,"ay":209.1,"lx":658.6,"ly":219.5,"t":"660 nm"},
{"p":"e","x":703,"ay":138.7,"lx":699.4,"ly":148.6,"t":"703 (52.4%)"},
{"p":"f","x":443,"ay":23,"lx":451.5,"ly":37.9,"t":"443 (1.6%)"},
{"p":"f","x":610,"ay":136,"lx":620.3,"ly":152.3,"t":"610 (33.9%)"},
{"p":"f","x":677,"ay":292,"lx":678.4,"ly":305.4,"t":"677 nm"},
{"p":"f","x":703,"ay":233.1,"lx":675.8,"ly":246.9,"t":"703 (64.5%)"},
{"p":"g","x":443,"ay":36.3,"lx":446.8,"ly":46.1,"t":"443 (6.9%)"},
{"p":"g","x":610,"ay":134.5,"lx":632.3,"ly":144.2,"t":"610 (48.7%)"},
{"p":"g","x":651,"ay":183,"lx":651.2,"ly":193.5,"t":"651 nm"},
{"p":"g","x":703,"ay":121.6,"lx":679.8,"ly":131.2,"t":"703 (44.4%)"},
{"p":"h","x":443,"ay":20.5,"lx":446.4,"ly":35.8,"t":"443 (2.1%)"},
{"p":"h","x":610,"ay":120.7,"lx":620.4,"ly":132.2,"t":"610 (32.8%)"},
{"p":"h","x":679,"ay":261.3,"lx":681.8,"ly":274,"t":"679 nm"},
{"p":"h","x":703,"ay":211,"lx":678.8,"ly":223,"t":"703 (65.1%)"}
],
"let": [
{"p":"a","lx":814,"ly":248,"t":"(a)"},
{"p":"b","lx":814.5,"ly":112.1,"t":"(b)"},
{"p":"c","lx":814.7,"ly":244.6,"t":"(c)"},
{"p":"d","lx":813,"ly":163.4,"t":"(d)"},
{"p":"e","lx":814.3,"ly":217.3,"t":"(e)"},
{"p":"f","lx":812.8,"ly":296.3,"t":"(f)"},
{"p":"g","lx":814.5,"ly":186.9,"t":"(g)"},
{"p":"h","lx":812,"ly":267,"t":"(h)"}
]
},
"columns": 2,
"spacing": {"row": 61, "column": 70},
"bounds": "flush",
"resolve": {"scale": {"x": "independent", "y": "independent", "color": "independent"}},
"concat": [
{
 "width": 485, "height": 355,
 "data": {"name": "c"},
 "transform": [{"filter": "datum.p === 'a'"}],
 "encoding": {"x": {"field": "x", "type": "quantitative", "scale": {"domain": [350, 850], "nice": false}, "axis": {"title": "Wavelength (nm)", "labelOverlap": false, "tickCount": 100, "format": "d", "values": [350,400,450,500,550,600,650,700,750,800,850], "labelExpr": "datum.value % 100 === 0 ? datum.label : ''", "tickSize": {"condition": {"test": "datum.value % 100 === 0", "value": 6}, "value": 3}}}},
 "layer": [
  {"mark": {"type": "area", "clip": true, "opacity": 1, "interpolate": "monotone", "color": {"gradient": "linear", "x1": 0, "y1": 0, "x2": 0, "y2": 1, "stops": [{"offset": 0, "color": "#0000ff"}, {"offset": 1, "color": "#f0f0ff"}]}, "line": {"color": "#1a1aff", "strokeWidth": 1}},
   "encoding": {"y": {"field": "b", "type": "quantitative", "scale": {"domain": [-2.5, 270], "nice": false, "zero": false}, "axis": {"title": "PL intensity (counts per second)", "labelOverlap": false, "tickCount": 100, "format": "d", "values": [0,15,30,45,60,75,90,105,120,135,150,165,180,195,210,225,240,255,270], "labelExpr": "datum.value % 30 === 0 ? datum.label : ''", "tickSize": {"condition": {"test": "datum.value % 30 === 0", "value": 6}, "value": 3}}}, "y2": {"datum": 0}}},
  {"mark": {"type": "area", "clip": true, "opacity": 1, "interpolate": "monotone", "color": {"gradient": "linear", "x1": 0, "y1": 0, "x2": 0, "y2": 1, "stops": [{"offset": 0, "color": "#fb7d13"}, {"offset": 1, "color": "#fff5ec"}]}, "line": {"color": "#ff8a1a", "strokeWidth": 1.1}},
   "encoding": {"y": {"field": "o", "type": "quantitative", "scale": {"domain": [-2.5, 270], "nice": false, "zero": false}}, "y2": {"datum": 0}}},
  {"mark": {"type": "area", "clip": true, "opacity": 1, "interpolate": "monotone", "color": {"gradient": "linear", "x1": 0, "y1": 0, "x2": 0, "y2": 1, "stops": [{"offset": 0, "color": "#ff0d0d"}, {"offset": 1, "color": "#fff0f0"}]}, "line": {"color": "#ff1010", "strokeWidth": 1.1}},
   "encoding": {"y": {"field": "r", "type": "quantitative", "scale": {"domain": [-2.5, 270], "nice": false, "zero": false}}, "y2": {"datum": 0}}},
  {"mark": {"type": "line", "clip": true, "interpolate": "monotone", "strokeWidth": 1.6},
   "encoding": {"y": {"field": "e", "type": "quantitative", "scale": {"domain": [-2.5, 270], "nice": false, "zero": false}}, "color": {"datum": "120-H", "type": "nominal", "scale": {"range": ["#0a7d0a"]}, "legend": {"title": null}}}},
  {"mark": {"type": "line", "clip": true, "interpolate": "monotone", "color": "#ff3030", "strokeWidth": 1.3, "strokeDash": [1.5, 3.5]},
   "encoding": {"y": {"field": "s", "type": "quantitative", "scale": {"domain": [-2.5, 270], "nice": false, "zero": false}}}},
  {"data": {"name": "ann"}, "transform": [{"filter": "datum.p === 'a'"}], "mark": {"type": "rule", "color": "#444", "strokeWidth": 1, "strokeDash": [1.5, 2]},
   "encoding": {"y": {"field": "ay", "type": "quantitative", "scale": {"domain": [-2.5, 270], "nice": false, "zero": false}}, "y2": {"datum": 0}}},
  {"data": {"name": "ann"}, "transform": [{"filter": "datum.p === 'a'"}], "mark": {"type": "point", "shape": "M0,-1L0.45,1L-0.45,1Z", "filled": true, "color": "#000", "opacity": 1, "size": 90},
   "encoding": {"y": {"field": "ay", "type": "quantitative", "scale": {"domain": [-2.5, 270], "nice": false, "zero": false}}}},
  {"data": {"name": "ann"}, "transform": [{"filter": "datum.p === 'a'"}], "mark": {"type": "text", "font": "Lato", "fontSize": 14.5, "fontWeight": "bold", "color": "#111", "baseline": "middle"},
   "encoding": {"x": {"field": "lx", "type": "quantitative", "scale": {"domain": [350, 850], "nice": false}}, "y": {"field": "ly", "type": "quantitative", "scale": {"domain": [-2.5, 270], "nice": false, "zero": false}}, "text": {"field": "t"}}},
  {"data": {"name": "let"}, "transform": [{"filter": "datum.p === 'a'"}], "mark": {"type": "text", "font": "Lato", "fontSize": 33, "fontWeight": "bold", "color": "#000", "baseline": "middle"},
   "encoding": {"x": {"field": "lx", "type": "quantitative", "scale": {"domain": [350, 850], "nice": false}}, "y": {"field": "ly", "type": "quantitative", "scale": {"domain": [-2.5, 270], "nice": false, "zero": false}}, "text": {"field": "t"}}}
 ]
},
{
 "width": 484, "height": 361,
 "data": {"name": "c"},
 "transform": [{"filter": "datum.p === 'b'"}],
 "encoding": {"x": {"field": "x", "type": "quantitative", "scale": {"domain": [350, 839], "nice": false}, "axis": {"title": "Wavelength (nm)", "labelOverlap": false, "tickCount": 100, "format": "d", "values": [350,400,450,500,550,600,650,700,750,800], "labelExpr": "datum.value % 100 === 0 ? datum.label : ''", "tickSize": {"condition": {"test": "datum.value % 100 === 0", "value": 6}, "value": 3}}}},
 "layer": [
  {"mark": {"type": "area", "clip": true, "opacity": 1, "interpolate": "monotone", "color": {"gradient": "linear", "x1": 0, "y1": 0, "x2": 0, "y2": 1, "stops": [{"offset": 0, "color": "#3a2bff"}, {"offset": 1, "color": "#f0f0ff"}]}, "line": {"color": "#4a40e0", "strokeWidth": 1}},
   "encoding": {"y": {"field": "b", "type": "quantitative", "scale": {"domain": [-1.4, 125], "nice": false, "zero": false}, "axis": {"title": "PL intensity (counts per second)", "labelOverlap": false, "tickCount": 100, "format": "d", "values": [0,10,20,30,40,50,60,70,80,90,100,110,120], "labelExpr": "datum.value % 20 === 0 ? datum.label : ''", "tickSize": {"condition": {"test": "datum.value % 20 === 0", "value": 6}, "value": 3}}}, "y2": {"datum": 0}}},
  {"mark": {"type": "area", "clip": true, "opacity": 1, "interpolate": "monotone", "color": {"gradient": "linear", "x1": 0, "y1": 0, "x2": 0, "y2": 1, "stops": [{"offset": 0, "color": "#ff0d0d"}, {"offset": 1, "color": "#fff0f0"}]}, "line": {"color": "#ff1010", "strokeWidth": 1.1}},
   "encoding": {"y": {"field": "r", "type": "quantitative", "scale": {"domain": [-1.4, 125], "nice": false, "zero": false}}, "y2": {"datum": 0}}},
  {"mark": {"type": "area", "clip": true, "interpolate": "monotone", "color": "#f7953c", "opacity": 0.55, "line": {"color": "#f5a050", "strokeWidth": 1, "opacity": 1}},
   "encoding": {"y": {"field": "o", "type": "quantitative", "scale": {"domain": [-1.4, 125], "nice": false, "zero": false}}, "y2": {"datum": 0}}},
  {"mark": {"type": "line", "clip": true, "interpolate": "monotone", "strokeWidth": 1.6},
   "encoding": {"y": {"field": "e", "type": "quantitative", "scale": {"domain": [-1.4, 125], "nice": false, "zero": false}}, "color": {"datum": "120-N", "type": "nominal", "scale": {"range": ["#ff0000"]}, "legend": {"title": null}}}},
  {"mark": {"type": "line", "clip": true, "interpolate": "monotone", "color": "#ff3030", "strokeWidth": 1.3, "strokeDash": [1.5, 3.5]},
   "encoding": {"y": {"field": "s", "type": "quantitative", "scale": {"domain": [-1.4, 125], "nice": false, "zero": false}}}},
  {"data": {"name": "ann"}, "transform": [{"filter": "datum.p === 'b'"}], "mark": {"type": "rule", "color": "#444", "strokeWidth": 1, "strokeDash": [1.5, 2]},
   "encoding": {"y": {"field": "ay", "type": "quantitative", "scale": {"domain": [-1.4, 125], "nice": false, "zero": false}}, "y2": {"datum": 0}}},
  {"data": {"name": "ann"}, "transform": [{"filter": "datum.p === 'b'"}], "mark": {"type": "point", "shape": "M0,-1L0.45,1L-0.45,1Z", "filled": true, "color": "#000", "opacity": 1, "size": 90},
   "encoding": {"y": {"field": "ay", "type": "quantitative", "scale": {"domain": [-1.4, 125], "nice": false, "zero": false}}}},
  {"data": {"name": "ann"}, "transform": [{"filter": "datum.p === 'b'"}], "mark": {"type": "text", "font": "Lato", "fontSize": 14.5, "fontWeight": "bold", "color": "#111", "baseline": "middle"},
   "encoding": {"x": {"field": "lx", "type": "quantitative", "scale": {"domain": [350, 839], "nice": false}}, "y": {"field": "ly", "type": "quantitative", "scale": {"domain": [-1.4, 125], "nice": false, "zero": false}}, "text": {"field": "t"}}},
  {"data": {"name": "let"}, "transform": [{"filter": "datum.p === 'b'"}], "mark": {"type": "text", "font": "Lato", "fontSize": 33, "fontWeight": "bold", "color": "#000", "baseline": "middle"},
   "encoding": {"x": {"field": "lx", "type": "quantitative", "scale": {"domain": [350, 839], "nice": false}}, "y": {"field": "ly", "type": "quantitative", "scale": {"domain": [-1.4, 125], "nice": false, "zero": false}}, "text": {"field": "t"}}}
 ]
},
{
 "width": 485, "height": 355,
 "data": {"name": "c"},
 "transform": [{"filter": "datum.p === 'c'"}],
 "encoding": {"x": {"field": "x", "type": "quantitative", "scale": {"domain": [350, 850], "nice": false}, "axis": {"title": "Wavelength (nm)", "labelOverlap": false, "tickCount": 100, "format": "d", "values": [350,400,450,500,550,600,650,700,750,800,850], "labelExpr": "datum.value % 100 === 0 ? datum.label : ''", "tickSize": {"condition": {"test": "datum.value % 100 === 0", "value": 6}, "value": 3}}}},
 "layer": [
  {"mark": {"type": "area", "clip": true, "opacity": 1, "interpolate": "monotone", "color": {"gradient": "linear", "x1": 0, "y1": 0, "x2": 0, "y2": 1, "stops": [{"offset": 0, "color": "#0000ff"}, {"offset": 1, "color": "#f0f0ff"}]}, "line": {"color": "#1a1aff", "strokeWidth": 1}},
   "encoding": {"y": {"field": "b", "type": "quantitative", "scale": {"domain": [-2.5, 270], "nice": false, "zero": false}, "axis": {"title": "PL intensity (counts per second)", "labelOverlap": false, "tickCount": 100, "format": "d", "values": [0,15,30,45,60,75,90,105,120,135,150,165,180,195,210,225,240,255,270], "labelExpr": "datum.value % 30 === 0 ? datum.label : ''", "tickSize": {"condition": {"test": "datum.value % 30 === 0", "value": 6}, "value": 3}}}, "y2": {"datum": 0}}},
  {"mark": {"type": "area", "clip": true, "opacity": 1, "interpolate": "monotone", "color": {"gradient": "linear", "x1": 0, "y1": 0, "x2": 0, "y2": 1, "stops": [{"offset": 0, "color": "#fb7d13"}, {"offset": 1, "color": "#fff5ec"}]}, "line": {"color": "#ff8a1a", "strokeWidth": 1.1}},
   "encoding": {"y": {"field": "o", "type": "quantitative", "scale": {"domain": [-2.5, 270], "nice": false, "zero": false}}, "y2": {"datum": 0}}},
  {"mark": {"type": "area", "clip": true, "opacity": 1, "interpolate": "monotone", "color": {"gradient": "linear", "x1": 0, "y1": 0, "x2": 0, "y2": 1, "stops": [{"offset": 0, "color": "#ff0d0d"}, {"offset": 1, "color": "#fff0f0"}]}, "line": {"color": "#ff1010", "strokeWidth": 1.1}},
   "encoding": {"y": {"field": "r", "type": "quantitative", "scale": {"domain": [-2.5, 270], "nice": false, "zero": false}}, "y2": {"datum": 0}}},
  {"mark": {"type": "line", "clip": true, "interpolate": "monotone", "strokeWidth": 1.6},
   "encoding": {"y": {"field": "e", "type": "quantitative", "scale": {"domain": [-2.5, 270], "nice": false, "zero": false}}, "color": {"datum": "130-H", "type": "nominal", "scale": {"range": ["#800080"]}, "legend": {"title": null}}}},
  {"mark": {"type": "line", "clip": true, "interpolate": "monotone", "color": "#ff3030", "strokeWidth": 1.3, "strokeDash": [1.5, 3.5]},
   "encoding": {"y": {"field": "s", "type": "quantitative", "scale": {"domain": [-2.5, 270], "nice": false, "zero": false}}}},
  {"data": {"name": "ann"}, "transform": [{"filter": "datum.p === 'c'"}], "mark": {"type": "rule", "color": "#444", "strokeWidth": 1, "strokeDash": [1.5, 2]},
   "encoding": {"y": {"field": "ay", "type": "quantitative", "scale": {"domain": [-2.5, 270], "nice": false, "zero": false}}, "y2": {"datum": 0}}},
  {"data": {"name": "ann"}, "transform": [{"filter": "datum.p === 'c'"}], "mark": {"type": "point", "shape": "M0,-1L0.45,1L-0.45,1Z", "filled": true, "color": "#000", "opacity": 1, "size": 90},
   "encoding": {"y": {"field": "ay", "type": "quantitative", "scale": {"domain": [-2.5, 270], "nice": false, "zero": false}}}},
  {"data": {"name": "ann"}, "transform": [{"filter": "datum.p === 'c'"}], "mark": {"type": "text", "font": "Lato", "fontSize": 14.5, "fontWeight": "bold", "color": "#111", "baseline": "middle"},
   "encoding": {"x": {"field": "lx", "type": "quantitative", "scale": {"domain": [350, 850], "nice": false}}, "y": {"field": "ly", "type": "quantitative", "scale": {"domain": [-2.5, 270], "nice": false, "zero": false}}, "text": {"field": "t"}}},
  {"data": {"name": "let"}, "transform": [{"filter": "datum.p === 'c'"}], "mark": {"type": "text", "font": "Lato", "fontSize": 33, "fontWeight": "bold", "color": "#000", "baseline": "middle"},
   "encoding": {"x": {"field": "lx", "type": "quantitative", "scale": {"domain": [350, 850], "nice": false}}, "y": {"field": "ly", "type": "quantitative", "scale": {"domain": [-2.5, 270], "nice": false, "zero": false}}, "text": {"field": "t"}}}
 ]
},
{
 "width": 484, "height": 361,
 "data": {"name": "c"},
 "transform": [{"filter": "datum.p === 'd'"}],
 "encoding": {"x": {"field": "x", "type": "quantitative", "scale": {"domain": [350, 839], "nice": false}, "axis": {"title": "Wavelength (nm)", "labelOverlap": false, "tickCount": 100, "format": "d", "values": [350,400,450,500,550,600,650,700,750,800], "labelExpr": "datum.value % 100 === 0 ? datum.label : ''", "tickSize": {"condition": {"test": "datum.value % 100 === 0", "value": 6}, "value": 3}}}},
 "layer": [
  {"mark": {"type": "area", "clip": true, "opacity": 1, "interpolate": "monotone", "color": {"gradient": "linear", "x1": 0, "y1": 0, "x2": 0, "y2": 1, "stops": [{"offset": 0, "color": "#0000ff"}, {"offset": 1, "color": "#f0f0ff"}]}, "line": {"color": "#1a1aff", "strokeWidth": 1}},
   "encoding": {"y": {"field": "b", "type": "quantitative", "scale": {"domain": [-1.7, 180], "nice": false, "zero": false}, "axis": {"title": "PL intensity (counts per second)", "labelOverlap": false, "tickCount": 100, "format": "d", "values": [0,10,20,30,40,50,60,70,80,90,100,110,120,130,140,150,160,170,180], "labelExpr": "datum.value % 20 === 0 ? datum.label : ''", "tickSize": {"condition": {"test": "datum.value % 20 === 0", "value": 6}, "value": 3}}}, "y2": {"datum": 0}}},
  {"mark": {"type": "area", "clip": true, "opacity": 1, "interpolate": "monotone", "color": {"gradient": "linear", "x1": 0, "y1": 0, "x2": 0, "y2": 1, "stops": [{"offset": 0, "color": "#fb7d13"}, {"offset": 1, "color": "#fff5ec"}]}, "line": {"color": "#ff8a1a", "strokeWidth": 1.1}},
   "encoding": {"y": {"field": "o", "type": "quantitative", "scale": {"domain": [-1.7, 180], "nice": false, "zero": false}}, "y2": {"datum": 0}}},
  {"mark": {"type": "area", "clip": true, "opacity": 1, "interpolate": "monotone", "color": {"gradient": "linear", "x1": 0, "y1": 0, "x2": 0, "y2": 1, "stops": [{"offset": 0, "color": "#ff0d0d"}, {"offset": 1, "color": "#fff0f0"}]}, "line": {"color": "#ff1010", "strokeWidth": 1.1}},
   "encoding": {"y": {"field": "r", "type": "quantitative", "scale": {"domain": [-1.7, 180], "nice": false, "zero": false}}, "y2": {"datum": 0}}},
  {"mark": {"type": "line", "clip": true, "interpolate": "monotone", "strokeWidth": 1.6},
   "encoding": {"y": {"field": "e", "type": "quantitative", "scale": {"domain": [-1.7, 180], "nice": false, "zero": false}}, "color": {"datum": "130-N", "type": "nominal", "scale": {"range": ["#0000ff"]}, "legend": {"title": null}}}},
  {"mark": {"type": "line", "clip": true, "interpolate": "monotone", "color": "#ff3030", "strokeWidth": 1.3, "strokeDash": [1.5, 3.5]},
   "encoding": {"y": {"field": "s", "type": "quantitative", "scale": {"domain": [-1.7, 180], "nice": false, "zero": false}}}},
  {"data": {"name": "ann"}, "transform": [{"filter": "datum.p === 'd'"}], "mark": {"type": "rule", "color": "#444", "strokeWidth": 1, "strokeDash": [1.5, 2]},
   "encoding": {"y": {"field": "ay", "type": "quantitative", "scale": {"domain": [-1.7, 180], "nice": false, "zero": false}}, "y2": {"datum": 0}}},
  {"data": {"name": "ann"}, "transform": [{"filter": "datum.p === 'd'"}], "mark": {"type": "point", "shape": "M0,-1L0.45,1L-0.45,1Z", "filled": true, "color": "#000", "opacity": 1, "size": 90},
   "encoding": {"y": {"field": "ay", "type": "quantitative", "scale": {"domain": [-1.7, 180], "nice": false, "zero": false}}}},
  {"data": {"name": "ann"}, "transform": [{"filter": "datum.p === 'd'"}], "mark": {"type": "text", "font": "Lato", "fontSize": 14.5, "fontWeight": "bold", "color": "#111", "baseline": "middle"},
   "encoding": {"x": {"field": "lx", "type": "quantitative", "scale": {"domain": [350, 839], "nice": false}}, "y": {"field": "ly", "type": "quantitative", "scale": {"domain": [-1.7, 180], "nice": false, "zero": false}}, "text": {"field": "t"}}},
  {"data": {"name": "let"}, "transform": [{"filter": "datum.p === 'd'"}], "mark": {"type": "text", "font": "Lato", "fontSize": 33, "fontWeight": "bold", "color": "#000", "baseline": "middle"},
   "encoding": {"x": {"field": "lx", "type": "quantitative", "scale": {"domain": [350, 839], "nice": false}}, "y": {"field": "ly", "type": "quantitative", "scale": {"domain": [-1.7, 180], "nice": false, "zero": false}}, "text": {"field": "t"}}}
 ]
},
{
 "width": 485, "height": 355,
 "data": {"name": "c"},
 "transform": [{"filter": "datum.p === 'e'"}],
 "encoding": {"x": {"field": "x", "type": "quantitative", "scale": {"domain": [350, 850], "nice": false}, "axis": {"title": "Wavelength (nm)", "labelOverlap": false, "tickCount": 100, "format": "d", "values": [350,400,450,500,550,600,650,700,750,800,850], "labelExpr": "datum.value % 100 === 0 ? datum.label : ''", "tickSize": {"condition": {"test": "datum.value % 100 === 0", "value": 6}, "value": 3}}}},
 "layer": [
  {"mark": {"type": "area", "clip": true, "opacity": 1, "interpolate": "monotone", "color": {"gradient": "linear", "x1": 0, "y1": 0, "x2": 0, "y2": 1, "stops": [{"offset": 0, "color": "#0000ff"}, {"offset": 1, "color": "#f0f0ff"}]}, "line": {"color": "#1a1aff", "strokeWidth": 1}},
   "encoding": {"y": {"field": "b", "type": "quantitative", "scale": {"domain": [-2.7, 240], "nice": false, "zero": false}, "axis": {"title": "PL intensity (counts per second)", "labelOverlap": false, "tickCount": 100, "format": "d", "values": [0,15,30,45,60,75,90,105,120,135,150,165,180,195,210,225,240], "labelExpr": "datum.value % 30 === 0 ? datum.label : ''", "tickSize": {"condition": {"test": "datum.value % 30 === 0", "value": 6}, "value": 3}}}, "y2": {"datum": 0}}},
  {"mark": {"type": "area", "clip": true, "opacity": 1, "interpolate": "monotone", "color": {"gradient": "linear", "x1": 0, "y1": 0, "x2": 0, "y2": 1, "stops": [{"offset": 0, "color": "#fb7d13"}, {"offset": 1, "color": "#fff5ec"}]}, "line": {"color": "#ff8a1a", "strokeWidth": 1.1}},
   "encoding": {"y": {"field": "o", "type": "quantitative", "scale": {"domain": [-2.7, 240], "nice": false, "zero": false}}, "y2": {"datum": 0}}},
  {"mark": {"type": "area", "clip": true, "opacity": 1, "interpolate": "monotone", "color": {"gradient": "linear", "x1": 0, "y1": 0, "x2": 0, "y2": 1, "stops": [{"offset": 0, "color": "#ff0d0d"}, {"offset": 1, "color": "#fff0f0"}]}, "line": {"color": "#ff1010", "strokeWidth": 1.1}},
   "encoding": {"y": {"field": "r", "type": "quantitative", "scale": {"domain": [-2.7, 240], "nice": false, "zero": false}}, "y2": {"datum": 0}}},
  {"mark": {"type": "line", "clip": true, "interpolate": "monotone", "strokeWidth": 1.6},
   "encoding": {"y": {"field": "e", "type": "quantitative", "scale": {"domain": [-2.7, 240], "nice": false, "zero": false}}, "color": {"datum": "140-H", "type": "nominal", "scale": {"range": ["#ff8000"]}, "legend": {"title": null}}}},
  {"mark": {"type": "line", "clip": true, "interpolate": "monotone", "color": "#ff3030", "strokeWidth": 1.3, "strokeDash": [1.5, 3.5]},
   "encoding": {"y": {"field": "s", "type": "quantitative", "scale": {"domain": [-2.7, 240], "nice": false, "zero": false}}}},
  {"data": {"name": "ann"}, "transform": [{"filter": "datum.p === 'e'"}], "mark": {"type": "rule", "color": "#444", "strokeWidth": 1, "strokeDash": [1.5, 2]},
   "encoding": {"y": {"field": "ay", "type": "quantitative", "scale": {"domain": [-2.7, 240], "nice": false, "zero": false}}, "y2": {"datum": 0}}},
  {"data": {"name": "ann"}, "transform": [{"filter": "datum.p === 'e'"}], "mark": {"type": "point", "shape": "M0,-1L0.45,1L-0.45,1Z", "filled": true, "color": "#000", "opacity": 1, "size": 90},
   "encoding": {"y": {"field": "ay", "type": "quantitative", "scale": {"domain": [-2.7, 240], "nice": false, "zero": false}}}},
  {"data": {"name": "ann"}, "transform": [{"filter": "datum.p === 'e'"}], "mark": {"type": "text", "font": "Lato", "fontSize": 14.5, "fontWeight": "bold", "color": "#111", "baseline": "middle"},
   "encoding": {"x": {"field": "lx", "type": "quantitative", "scale": {"domain": [350, 850], "nice": false}}, "y": {"field": "ly", "type": "quantitative", "scale": {"domain": [-2.7, 240], "nice": false, "zero": false}}, "text": {"field": "t"}}},
  {"data": {"name": "let"}, "transform": [{"filter": "datum.p === 'e'"}], "mark": {"type": "text", "font": "Lato", "fontSize": 33, "fontWeight": "bold", "color": "#000", "baseline": "middle"},
   "encoding": {"x": {"field": "lx", "type": "quantitative", "scale": {"domain": [350, 850], "nice": false}}, "y": {"field": "ly", "type": "quantitative", "scale": {"domain": [-2.7, 240], "nice": false, "zero": false}}, "text": {"field": "t"}}}
 ]
},
{
 "width": 484, "height": 361,
 "data": {"name": "c"},
 "transform": [{"filter": "datum.p === 'f'"}],
 "encoding": {"x": {"field": "x", "type": "quantitative", "scale": {"domain": [350, 839], "nice": false}, "axis": {"title": "Wavelength (nm)", "labelOverlap": false, "tickCount": 100, "format": "d", "values": [350,400,450,500,550,600,650,700,750,800], "labelExpr": "datum.value % 100 === 0 ? datum.label : ''", "tickSize": {"condition": {"test": "datum.value % 100 === 0", "value": 6}, "value": 3}}}},
 "layer": [
  {"mark": {"type": "area", "clip": true, "opacity": 1, "interpolate": "monotone", "color": {"gradient": "linear", "x1": 0, "y1": 0, "x2": 0, "y2": 1, "stops": [{"offset": 0, "color": "#0000ff"}, {"offset": 1, "color": "#f0f0ff"}]}, "line": {"color": "#1a1aff", "strokeWidth": 1}},
   "encoding": {"y": {"field": "b", "type": "quantitative", "scale": {"domain": [-3, 325], "nice": false, "zero": false}, "axis": {"title": "PL intensity (counts per second)", "labelOverlap": false, "tickCount": 100, "format": "d", "values": [0,25,50,75,100,125,150,175,200,225,250,275,300,325], "labelExpr": "datum.value % 50 === 0 ? datum.label : ''", "tickSize": {"condition": {"test": "datum.value % 50 === 0", "value": 6}, "value": 3}}}, "y2": {"datum": 0}}},
  {"mark": {"type": "area", "clip": true, "opacity": 1, "interpolate": "monotone", "color": {"gradient": "linear", "x1": 0, "y1": 0, "x2": 0, "y2": 1, "stops": [{"offset": 0, "color": "#fb7d13"}, {"offset": 1, "color": "#fff5ec"}]}, "line": {"color": "#ff8a1a", "strokeWidth": 1.1}},
   "encoding": {"y": {"field": "o", "type": "quantitative", "scale": {"domain": [-3, 325], "nice": false, "zero": false}}, "y2": {"datum": 0}}},
  {"mark": {"type": "area", "clip": true, "opacity": 1, "interpolate": "monotone", "color": {"gradient": "linear", "x1": 0, "y1": 0, "x2": 0, "y2": 1, "stops": [{"offset": 0, "color": "#ff0d0d"}, {"offset": 1, "color": "#fff0f0"}]}, "line": {"color": "#ff1010", "strokeWidth": 1.1}},
   "encoding": {"y": {"field": "r", "type": "quantitative", "scale": {"domain": [-3, 325], "nice": false, "zero": false}}, "y2": {"datum": 0}}},
  {"mark": {"type": "line", "clip": true, "interpolate": "monotone", "strokeWidth": 1.6},
   "encoding": {"y": {"field": "e", "type": "quantitative", "scale": {"domain": [-3, 325], "nice": false, "zero": false}}, "color": {"datum": "140-N", "type": "nominal", "scale": {"range": ["#008080"]}, "legend": {"title": null}}}},
  {"mark": {"type": "line", "clip": true, "interpolate": "monotone", "color": "#ff3030", "strokeWidth": 1.3, "strokeDash": [1.5, 3.5]},
   "encoding": {"y": {"field": "s", "type": "quantitative", "scale": {"domain": [-3, 325], "nice": false, "zero": false}}}},
  {"data": {"name": "ann"}, "transform": [{"filter": "datum.p === 'f'"}], "mark": {"type": "rule", "color": "#444", "strokeWidth": 1, "strokeDash": [1.5, 2]},
   "encoding": {"y": {"field": "ay", "type": "quantitative", "scale": {"domain": [-3, 325], "nice": false, "zero": false}}, "y2": {"datum": 0}}},
  {"data": {"name": "ann"}, "transform": [{"filter": "datum.p === 'f'"}], "mark": {"type": "point", "shape": "M0,-1L0.45,1L-0.45,1Z", "filled": true, "color": "#000", "opacity": 1, "size": 90},
   "encoding": {"y": {"field": "ay", "type": "quantitative", "scale": {"domain": [-3, 325], "nice": false, "zero": false}}}},
  {"data": {"name": "ann"}, "transform": [{"filter": "datum.p === 'f'"}], "mark": {"type": "text", "font": "Lato", "fontSize": 14.5, "fontWeight": "bold", "color": "#111", "baseline": "middle"},
   "encoding": {"x": {"field": "lx", "type": "quantitative", "scale": {"domain": [350, 839], "nice": false}}, "y": {"field": "ly", "type": "quantitative", "scale": {"domain": [-3, 325], "nice": false, "zero": false}}, "text": {"field": "t"}}},
  {"data": {"name": "let"}, "transform": [{"filter": "datum.p === 'f'"}], "mark": {"type": "text", "font": "Lato", "fontSize": 33, "fontWeight": "bold", "color": "#000", "baseline": "middle"},
   "encoding": {"x": {"field": "lx", "type": "quantitative", "scale": {"domain": [350, 839], "nice": false}}, "y": {"field": "ly", "type": "quantitative", "scale": {"domain": [-3, 325], "nice": false, "zero": false}}, "text": {"field": "t"}}}
 ]
},
{
 "width": 485, "height": 355,
 "data": {"name": "c"},
 "transform": [{"filter": "datum.p === 'g'"}],
 "encoding": {"x": {"field": "x", "type": "quantitative", "scale": {"domain": [350, 850], "nice": false}, "axis": {"title": "Wavelength (nm)", "labelOverlap": false, "tickCount": 100, "format": "d", "values": [350,400,450,500,550,600,650,700,750,800,850], "labelExpr": "datum.value % 100 === 0 ? datum.label : ''", "tickSize": {"condition": {"test": "datum.value % 100 === 0", "value": 6}, "value": 3}}}},
 "layer": [
  {"mark": {"type": "area", "clip": true, "opacity": 1, "interpolate": "monotone", "color": {"gradient": "linear", "x1": 0, "y1": 0, "x2": 0, "y2": 1, "stops": [{"offset": 0, "color": "#0000ff"}, {"offset": 1, "color": "#f0f0ff"}]}, "line": {"color": "#1a1aff", "strokeWidth": 1}},
   "encoding": {"y": {"field": "b", "type": "quantitative", "scale": {"domain": [-2, 210], "nice": false, "zero": false}, "axis": {"title": "PL intensity (counts per second)", "labelOverlap": false, "tickCount": 100, "format": "d", "values": [0,15,30,45,60,75,90,105,120,135,150,165,180,195,210], "labelExpr": "datum.value % 30 === 0 ? datum.label : ''", "tickSize": {"condition": {"test": "datum.value % 30 === 0", "value": 6}, "value": 3}}}, "y2": {"datum": 0}}},
  {"mark": {"type": "area", "clip": true, "opacity": 1, "interpolate": "monotone", "color": {"gradient": "linear", "x1": 0, "y1": 0, "x2": 0, "y2": 1, "stops": [{"offset": 0, "color": "#fb7d13"}, {"offset": 1, "color": "#fff5ec"}]}, "line": {"color": "#ff8a1a", "strokeWidth": 1.1}},
   "encoding": {"y": {"field": "o", "type": "quantitative", "scale": {"domain": [-2, 210], "nice": false, "zero": false}}, "y2": {"datum": 0}}},
  {"mark": {"type": "area", "clip": true, "opacity": 1, "interpolate": "monotone", "color": {"gradient": "linear", "x1": 0, "y1": 0, "x2": 0, "y2": 1, "stops": [{"offset": 0, "color": "#ff0d0d"}, {"offset": 1, "color": "#fff0f0"}]}, "line": {"color": "#ff1010", "strokeWidth": 1.1}},
   "encoding": {"y": {"field": "r", "type": "quantitative", "scale": {"domain": [-2, 210], "nice": false, "zero": false}}, "y2": {"datum": 0}}},
  {"mark": {"type": "line", "clip": true, "interpolate": "monotone", "strokeWidth": 1.6},
   "encoding": {"y": {"field": "e", "type": "quantitative", "scale": {"domain": [-2, 210], "nice": false, "zero": false}}, "color": {"datum": "150-H", "type": "nominal", "scale": {"range": ["#f0148c"]}, "legend": {"title": null}}}},
  {"mark": {"type": "line", "clip": true, "interpolate": "monotone", "color": "#ff3030", "strokeWidth": 1.3, "strokeDash": [1.5, 3.5]},
   "encoding": {"y": {"field": "s", "type": "quantitative", "scale": {"domain": [-2, 210], "nice": false, "zero": false}}}},
  {"data": {"name": "ann"}, "transform": [{"filter": "datum.p === 'g'"}], "mark": {"type": "rule", "color": "#444", "strokeWidth": 1, "strokeDash": [1.5, 2]},
   "encoding": {"y": {"field": "ay", "type": "quantitative", "scale": {"domain": [-2, 210], "nice": false, "zero": false}}, "y2": {"datum": 0}}},
  {"data": {"name": "ann"}, "transform": [{"filter": "datum.p === 'g'"}], "mark": {"type": "point", "shape": "M0,-1L0.45,1L-0.45,1Z", "filled": true, "color": "#000", "opacity": 1, "size": 90},
   "encoding": {"y": {"field": "ay", "type": "quantitative", "scale": {"domain": [-2, 210], "nice": false, "zero": false}}}},
  {"data": {"name": "ann"}, "transform": [{"filter": "datum.p === 'g'"}], "mark": {"type": "text", "font": "Lato", "fontSize": 14.5, "fontWeight": "bold", "color": "#111", "baseline": "middle"},
   "encoding": {"x": {"field": "lx", "type": "quantitative", "scale": {"domain": [350, 850], "nice": false}}, "y": {"field": "ly", "type": "quantitative", "scale": {"domain": [-2, 210], "nice": false, "zero": false}}, "text": {"field": "t"}}},
  {"data": {"name": "let"}, "transform": [{"filter": "datum.p === 'g'"}], "mark": {"type": "text", "font": "Lato", "fontSize": 33, "fontWeight": "bold", "color": "#000", "baseline": "middle"},
   "encoding": {"x": {"field": "lx", "type": "quantitative", "scale": {"domain": [350, 850], "nice": false}}, "y": {"field": "ly", "type": "quantitative", "scale": {"domain": [-2, 210], "nice": false, "zero": false}}, "text": {"field": "t"}}}
 ]
},
{
 "width": 484, "height": 361,
 "data": {"name": "c"},
 "transform": [{"filter": "datum.p === 'h'"}],
 "encoding": {"x": {"field": "x", "type": "quantitative", "scale": {"domain": [350, 839], "nice": false}, "axis": {"title": "Wavelength (nm)", "labelOverlap": false, "tickCount": 100, "format": "d", "values": [350,400,450,500,550,600,650,700,750,800], "labelExpr": "datum.value % 100 === 0 ? datum.label : ''", "tickSize": {"condition": {"test": "datum.value % 100 === 0", "value": 6}, "value": 3}}}},
 "layer": [
  {"mark": {"type": "area", "clip": true, "opacity": 1, "interpolate": "monotone", "color": {"gradient": "linear", "x1": 0, "y1": 0, "x2": 0, "y2": 1, "stops": [{"offset": 0, "color": "#0000ff"}, {"offset": 1, "color": "#f0f0ff"}]}, "line": {"color": "#1a1aff", "strokeWidth": 1}},
   "encoding": {"y": {"field": "b", "type": "quantitative", "scale": {"domain": [-2.8, 295], "nice": false, "zero": false}, "axis": {"title": "PL intensity (counts per second)", "labelOverlap": false, "tickCount": 100, "format": "d", "values": [0,25,50,75,100,125,150,175,200,225,250,275], "labelExpr": "datum.value % 50 === 0 ? datum.label : ''", "tickSize": {"condition": {"test": "datum.value % 50 === 0", "value": 6}, "value": 3}}}, "y2": {"datum": 0}}},
  {"mark": {"type": "area", "clip": true, "opacity": 1, "interpolate": "monotone", "color": {"gradient": "linear", "x1": 0, "y1": 0, "x2": 0, "y2": 1, "stops": [{"offset": 0, "color": "#fb7d13"}, {"offset": 1, "color": "#fff5ec"}]}, "line": {"color": "#ff8a1a", "strokeWidth": 1.1}},
   "encoding": {"y": {"field": "o", "type": "quantitative", "scale": {"domain": [-2.8, 295], "nice": false, "zero": false}}, "y2": {"datum": 0}}},
  {"mark": {"type": "area", "clip": true, "opacity": 1, "interpolate": "monotone", "color": {"gradient": "linear", "x1": 0, "y1": 0, "x2": 0, "y2": 1, "stops": [{"offset": 0, "color": "#ff0d0d"}, {"offset": 1, "color": "#fff0f0"}]}, "line": {"color": "#ff1010", "strokeWidth": 1.1}},
   "encoding": {"y": {"field": "r", "type": "quantitative", "scale": {"domain": [-2.8, 295], "nice": false, "zero": false}}, "y2": {"datum": 0}}},
  {"mark": {"type": "line", "clip": true, "interpolate": "monotone", "strokeWidth": 1.6},
   "encoding": {"y": {"field": "e", "type": "quantitative", "scale": {"domain": [-2.8, 295], "nice": false, "zero": false}}, "color": {"datum": "150-N", "type": "nominal", "scale": {"range": ["#808000"]}, "legend": {"title": null}}}},
  {"mark": {"type": "line", "clip": true, "interpolate": "monotone", "color": "#ff3030", "strokeWidth": 1.3, "strokeDash": [1.5, 3.5]},
   "encoding": {"y": {"field": "s", "type": "quantitative", "scale": {"domain": [-2.8, 295], "nice": false, "zero": false}}}},
  {"data": {"name": "ann"}, "transform": [{"filter": "datum.p === 'h'"}], "mark": {"type": "rule", "color": "#444", "strokeWidth": 1, "strokeDash": [1.5, 2]},
   "encoding": {"y": {"field": "ay", "type": "quantitative", "scale": {"domain": [-2.8, 295], "nice": false, "zero": false}}, "y2": {"datum": 0}}},
  {"data": {"name": "ann"}, "transform": [{"filter": "datum.p === 'h'"}], "mark": {"type": "point", "shape": "M0,-1L0.45,1L-0.45,1Z", "filled": true, "color": "#000", "opacity": 1, "size": 90},
   "encoding": {"y": {"field": "ay", "type": "quantitative", "scale": {"domain": [-2.8, 295], "nice": false, "zero": false}}}},
  {"data": {"name": "ann"}, "transform": [{"filter": "datum.p === 'h'"}], "mark": {"type": "text", "font": "Lato", "fontSize": 14.5, "fontWeight": "bold", "color": "#111", "baseline": "middle"},
   "encoding": {"x": {"field": "lx", "type": "quantitative", "scale": {"domain": [350, 839], "nice": false}}, "y": {"field": "ly", "type": "quantitative", "scale": {"domain": [-2.8, 295], "nice": false, "zero": false}}, "text": {"field": "t"}}},
  {"data": {"name": "let"}, "transform": [{"filter": "datum.p === 'h'"}], "mark": {"type": "text", "font": "Lato", "fontSize": 33, "fontWeight": "bold", "color": "#000", "baseline": "middle"},
   "encoding": {"x": {"field": "lx", "type": "quantitative", "scale": {"domain": [350, 839], "nice": false}}, "y": {"field": "ly", "type": "quantitative", "scale": {"domain": [-2.8, 295], "nice": false, "zero": false}}, "text": {"field": "t"}}}
 ]
}
]
}
